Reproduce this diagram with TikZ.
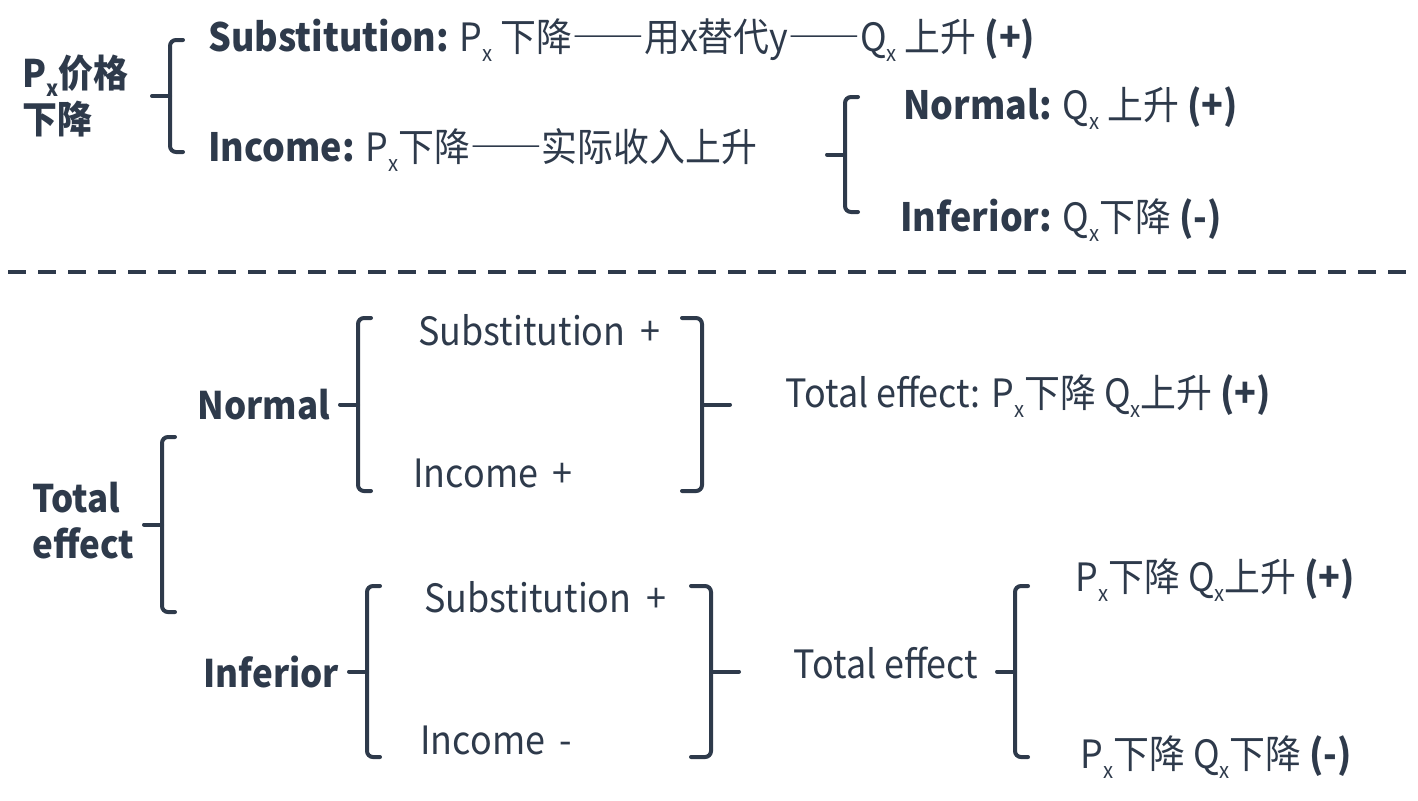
\documentclass[tikz,border=0pt]{standalone}
\usepackage{fontspec}
\setmainfont{Noto Sans CJK SC}[FakeStretch=0.92]
\usepackage{xcolor}
\usepackage{tikz}
\usetikzlibrary{positioning}
\definecolor{effslate}{HTML}{2E3A4B}
\tikzset{
  lbl/.style={anchor=west, inner sep=0pt, text=effslate, font=\fontsize{19.5}{23}\selectfont},
  head/.style={lbl, font=\fontsize{19}{23}\selectfont\bfseries, align=left},
  brk/.style={draw=effslate, line width=2pt, rounded corners=3pt, line cap=round},
  sep/.style={draw=effslate, line width=2pt, dash pattern=on 9pt off 6pt},
}
\newcommand{\subx}{\raisebox{-0.45ex}{\fontsize{11}{12}\selectfont x}}
\newcommand{\fwd}[1]{{\addfontfeatures{RawFeature=+fwid}#1}}
% left bracket: x, top, bottom
\newcommand{\lbrk}[3]{%
  \draw[brk] (#1+13,#2) -- (#1,#2) -- (#1,#3) -- (#1+13,#3);
  \draw[brk] (#1,{(#2+#3)/2}) -- ++(-18,0);}
% right bracket: x, top, bottom
\newcommand{\rbrk}[3]{%
  \draw[brk] (#1-20,#2) -- (#1,#2) -- (#1,#3) -- (#1-20,#3);
  \draw[brk] (#1,{(#2+#3)/2}) -- ++(28,0);}

\begin{document}
\begin{tikzpicture}[x=0.5pt, y=-0.5pt]
\useasboundingbox (0,0) rectangle (1418,800);

% price falls: substitution and income
\node[head] (pfall) at (22,96) {P\subx 价格\\下降};
\lbrk{170}{40}{152}
\node[lbl] (subst) at (208,40) {\textbf{Substitution:} P\subx\ 下降\fwd{——}用x替代y\fwd{——}Q\subx\ 上升 \textbf{(+)}};
\node[lbl] (inc) at (208,150) {\textbf{Income:} P\subx 下降\fwd{——}实际收入上升};
\lbrk{845}{97}{212}
\node[lbl] (norm) at (903,108) {\textbf{Normal:} Q\subx\ 上升 \textbf{(+)}};
\node[lbl] (infer) at (900,220) {\textbf{Inferior:} Q\subx 下降 \textbf{(-)}};

\draw[sep] (8,272) -- (1418,272);

% total effect
\node[head] (total) at (32,521) {Total\\effect};
\lbrk{162}{437}{612}

\node[head] (gnorm) at (197,405) {Normal};
\lbrk{358}{318}{491}
\node[lbl] (nsub) at (418,330) {Substitution\,\ +};
\node[lbl] (ninc) at (413,473) {Income\,\ +};
\rbrk{702}{318}{491}
\node[lbl] (ntot) at (785,396) {Total effect: P\subx 下降 Q\subx 上升 \textbf{(+)}};

\node[head] (ginf) at (203,672) {Inferior};
\lbrk{367}{586}{757}
\node[lbl] (isub) at (424,597) {Substitution\,\ +};
\node[lbl] (iinc) at (420,740) {Income\,\ -};
\rbrk{711}{586}{757}
\node[lbl] (itot) at (793,663) {Total effect};
\lbrk{1015}{586}{757}
\node[lbl] (iup) at (1075,580) {P\subx 下降 Q\subx 上升 \textbf{(+)}};
\node[lbl] (idown) at (1080,757) {P\subx 下降 Q\subx 下降 \textbf{(-)}};
\end{tikzpicture}
\end{document}
